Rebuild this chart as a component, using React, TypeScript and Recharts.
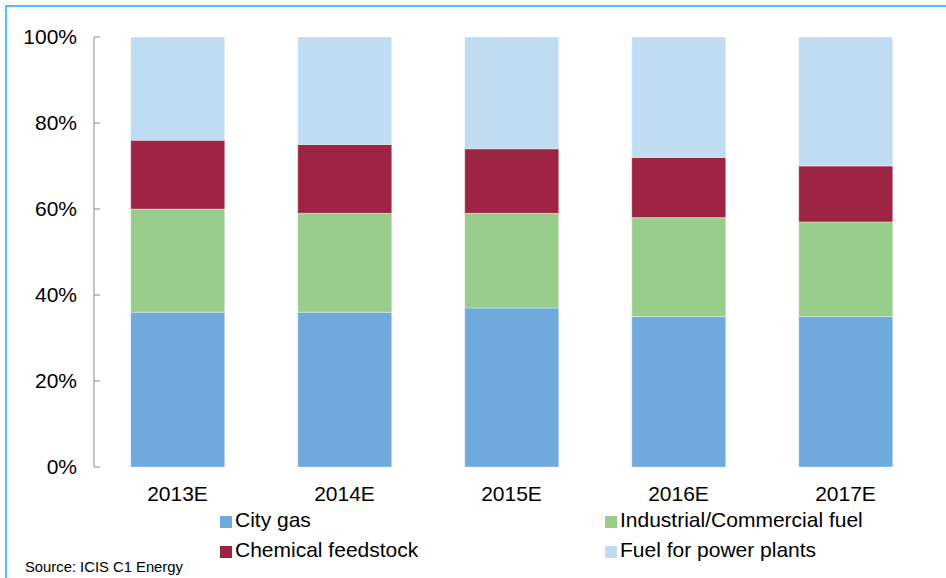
import React from 'react';
import { BarChart, Bar, XAxis, YAxis } from 'recharts';

const years = ['2013E', '2014E', '2015E', '2016E', '2017E'];
const cityGas = [36, 36, 37, 35, 35];
const industrialFuel = [24, 23, 22, 23, 22];
const chemicalFeedstock = [16, 16, 15, 14, 13];
const powerPlants = [24, 25, 26, 28, 30];
const yTicks = [0, 20, 40, 60, 80, 100];
const boundaryTicks = [0, 1, 2, 3, 4, 5];

const series = [
  { key: 'cityGas', name: 'City gas', color: '#70A9DC' },
  { key: 'industrialFuel', name: 'Industrial/Commercial fuel', color: '#98CD8B' },
  { key: 'chemicalFeedstock', name: 'Chemical feedstock', color: '#9E2444' },
  { key: 'powerPlants', name: 'Fuel for power plants', color: '#C0DCF2' },
];

const data = years.map((year, i) => ({
  year,
  cityGas: cityGas[i],
  industrialFuel: industrialFuel[i],
  chemicalFeedstock: chemicalFeedstock[i],
  powerPlants: powerPlants[i],
}));

const FONT = '"Liberation Sans", Arial, sans-serif';
const AXIS_GREY = '#868686';

// legend slots: two columns, two rows
const legendPos = [
  { left: 220, top: 509 },
  { left: 605, top: 509 },
  { left: 220, top: 539 },
  { left: 605, top: 539 },
];

export default function App() {
  return (
    <div
      style={{
        position: 'absolute',
        left: 0,
        top: 0,
        width: 946,
        height: 578,
        overflow: 'hidden',
        background: '#fff',
        fontFamily: FONT,
      }}
    >
      {/* frame */}
      <div
        style={{
          position: 'absolute',
          left: 5,
          top: 5,
          width: 1000,
          height: 1000,
          border: '2px solid #4FC0FF',
        }}
      />
      <div style={{ position: 'absolute', left: 0, top: 0 }}>
        <BarChart
          width={946}
          height={578}
          data={data}
          margin={{ top: 37, right: 17, left: 0, bottom: 71 }}
          barCategoryGap="22%"
        >
          <XAxis
            xAxisId="bounds"
            type="number"
            domain={[0, 5]}
            ticks={boundaryTicks}
            tick={false}
            height={0}
            stroke={AXIS_GREY}
            tickSize={6}
            allowDataOverflow
          />
          <XAxis
            dataKey="year"
            height={40}
            axisLine={false}
            tickLine={false}
            tickMargin={13}
            tick={{ fill: '#000', fontSize: 21, fontFamily: FONT }}
          />
          <YAxis
            width={94}
            domain={[0, 100]}
            ticks={yTicks}
            tickFormatter={(v) => `${v}%`}
            stroke={AXIS_GREY}
            tickSize={-6}
            tickMargin={23}
            tick={{ fill: '#000', fontSize: 21, fontFamily: FONT }}
          />
          {series.map((s) => (
            <Bar
              key={s.key}
              dataKey={s.key}
              name={s.name}
              stackId="a"
              fill={s.color}
              stroke="#ffffff"
              strokeOpacity={0.35}
              strokeWidth={1}
              isAnimationActive={false}
            />
          ))}
        </BarChart>
      </div>

      {series.map((s, i) => (
        <div
          key={s.key}
          style={{
            position: 'absolute',
            left: legendPos[i].left,
            top: legendPos[i].top,
            fontSize: 21,
            lineHeight: '21px',
            color: '#000',
            whiteSpace: 'nowrap',
          }}
        >
          <span
            style={{
              display: 'inline-block',
              width: 12,
              height: 12,
              background: s.color,
              marginRight: 3,
              verticalAlign: '-1px',
            }}
          />
          {s.name}
        </div>
      ))}

      <div
        style={{
          position: 'absolute',
          left: 25,
          top: 560,
          fontSize: 14.8,
          lineHeight: 1,
          color: '#000',
        }}
      >
        Source: ICIS C1 Energy
      </div>
    </div>
  );
}
